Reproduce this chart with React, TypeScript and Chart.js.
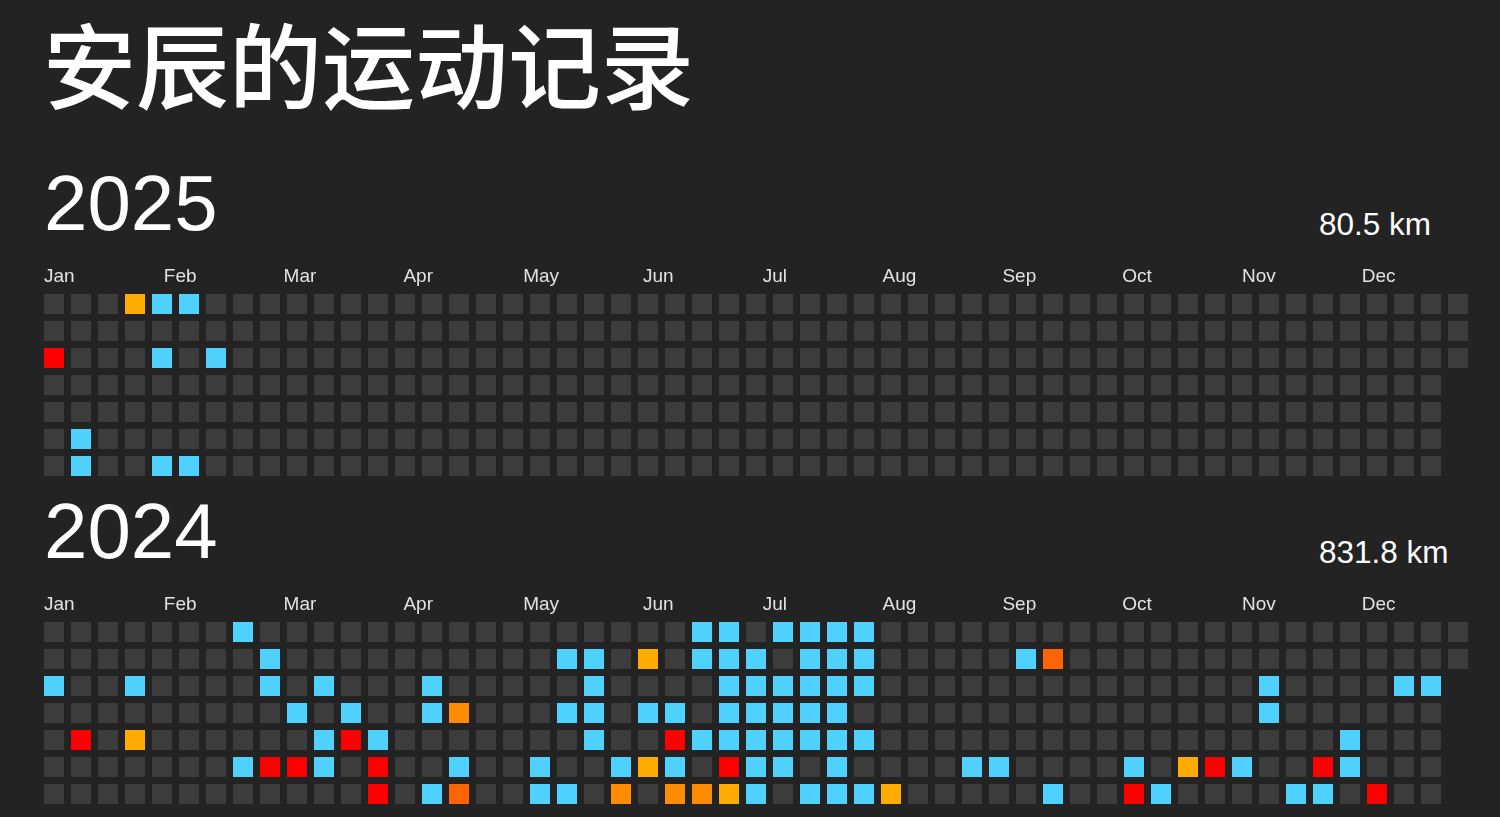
import React, { useEffect, useRef } from 'react';
import { Chart, registerables } from 'chart.js';

Chart.register(...registerables);

const TITLE = '安辰的运动记录';
const MONTHS = ['Jan', 'Feb', 'Mar', 'Apr', 'May', 'Jun', 'Jul', 'Aug', 'Sep', 'Oct', 'Nov', 'Dec'];

// 0 = no run, 1 = short run (cyan), 2..5 = longer runs (amber -> red)
const LEVEL_COLORS = ['#3c3c3c', '#4fd1ff', '#ffab00', '#ff8c00', '#ff6400', '#ff0000'];

// cells per weekday row (week columns 0..52)
const DAYS_PER_ROW_2025 = [53, 53, 53, 52, 52, 52, 52];
const DAYS_PER_ROW_2024 = [53, 53, 52, 52, 52, 52, 52];

// [week, level] for every day with activity, one list per weekday row
const ACTIVE_2025: [number, number][][] = [
  [[3, 2], [4, 1], [5, 1]],
  [],
  [[0, 5], [4, 1], [6, 1]],
  [],
  [],
  [[1, 1]],
  [[1, 1], [4, 1], [5, 1]],
];

const ACTIVE_2024: [number, number][][] = [
  [[7, 1], [24, 1], [25, 1], [27, 1], [28, 1], [29, 1], [30, 1]],
  [[8, 1], [19, 1], [20, 1], [22, 2], [24, 1], [25, 1], [26, 1], [28, 1], [29, 1], [30, 1], [36, 1], [37, 4]],
  [[0, 1], [3, 1], [8, 1], [10, 1], [14, 1], [20, 1], [25, 1], [26, 1], [27, 1], [28, 1], [29, 1], [30, 1], [45, 1], [50, 1], [51, 1]],
  [[9, 1], [11, 1], [14, 1], [15, 3], [19, 1], [20, 1], [22, 1], [23, 1], [25, 1], [26, 1], [27, 1], [28, 1], [29, 1], [45, 1]],
  [[1, 5], [3, 2], [10, 1], [11, 5], [12, 1], [20, 1], [23, 5], [24, 1], [25, 1], [26, 1], [27, 1], [28, 1], [29, 1], [30, 1], [48, 1]],
  [[7, 1], [8, 5], [9, 5], [10, 1], [12, 5], [15, 1], [18, 1], [21, 1], [22, 2], [23, 1], [25, 5], [26, 1], [27, 1], [29, 1],
    [34, 1], [35, 1], [40, 1], [42, 2], [43, 5], [44, 1], [47, 5], [48, 1]],
  [[12, 5], [14, 1], [15, 4], [18, 1], [19, 1], [21, 3], [23, 3], [24, 3], [25, 2], [26, 1], [28, 1], [29, 1], [30, 1], [31, 2],
    [37, 1], [40, 5], [41, 1], [46, 1], [47, 1], [49, 5]],
];

const YEARS = [2025, 2024];
const TOTALS = ['80.5 km', '831.8 km'];

const SANS = '"Liberation Sans", Arial, Helvetica, sans-serif';
const CELL = 20;
const PITCH = 27;
const GRID_LEFT = 44;
const GRID_WIDTH = 1437.6;

interface YearBlockProps {
  year: number;
  total: string;
  daysPerRow: number[];
  active: [number, number][][];
  top: number;
}

const YearBlock: React.FC<YearBlockProps> = ({ year, total, daysPerRow, active, top }) => {
  const canvasRef = useRef<HTMLCanvasElement>(null);
  const chartRef = useRef<Chart | null>(null);

  useEffect(() => {
    if (!canvasRef.current) return;
    if (chartRef.current) chartRef.current.destroy();

    const points: { x: number; y: number }[] = [];
    const colors: string[] = [];
    daysPerRow.forEach((count, row) => {
      const levels = new Map(active[row]);
      for (let week = 0; week < count; week++) {
        points.push({ x: week, y: row });
        colors.push(LEVEL_COLORS[levels.get(week) ?? 0]);
      }
    });

    const xMin = -(CELL / 2) / PITCH;
    const xMax = xMin + GRID_WIDTH / PITCH;

    chartRef.current = new Chart(canvasRef.current, {
      type: 'scatter',
      data: {
        datasets: [{
          data: points,
          backgroundColor: colors,
          borderWidth: 0,
          pointStyle: 'rect',
          pointRadius: CELL / Math.SQRT2,
          pointHoverRadius: CELL / Math.SQRT2,
        }],
      },
      options: {
        responsive: true,
        maintainAspectRatio: false,
        animation: false,
        events: [],
        layout: {
          autoPadding: false,
          padding: { left: GRID_LEFT, right: 1500 - GRID_LEFT - GRID_WIDTH, top: 5.5, bottom: 5.5 },
        },
        plugins: {
          legend: { display: false },
          tooltip: { enabled: false },
        },
        scales: {
          x: { type: 'linear', display: false, min: xMin, max: xMax },
          y: { type: 'linear', display: false, min: -0.5, max: 6.5, reverse: true },
          month: {
            type: 'linear',
            axis: 'x',
            position: 'top',
            min: 0,
            max: 12,
            afterBuildTicks: (scale: any) => {
              scale.ticks = MONTHS.map((_, i) => ({ value: i }));
            },
            afterFit: (scale: any) => {
              scale.height = 30;
            },
            grid: { display: false, drawTicks: false },
            border: { display: false },
            ticks: {
              align: 'start',
              padding: 2,
              autoSkip: false,
              maxRotation: 0,
              color: '#e2e2e2',
              font: { family: SANS, size: 19 },
              callback: (v: any) => MONTHS[v],
            },
          },
        },
      },
    } as any);

    return () => {
      if (chartRef.current) {
        chartRef.current.destroy();
        chartRef.current = null;
      }
    };
  }, [daysPerRow, active]);

  return (
    <>
      <div style={{ position: 'absolute', left: 44, top: top + 164, fontFamily: SANS, fontSize: 78, lineHeight: 1, color: '#fff' }}>
        {year}
      </div>
      <div style={{ position: 'absolute', left: 1319, top: top + 209, fontFamily: SANS, fontSize: 31.5, lineHeight: 1, color: '#fff' }}>
        {total}
      </div>
      <div style={{ position: 'absolute', left: 0, top: top + 255, width: 1500, height: 230 }}>
        <canvas ref={canvasRef}></canvas>
      </div>
    </>
  );
};

const App: React.FC = () => {
  return (
    <div style={{ position: 'absolute', left: 0, top: 0, width: 1500, height: 817, background: '#232323', overflow: 'hidden' }}>
      <div style={{
        position: 'absolute', left: 43, top: 15, fontFamily: '"Noto Sans CJK SC", sans-serif',
        fontSize: 93, fontWeight: 500, lineHeight: 1, color: '#fff', whiteSpace: 'nowrap',
      }}>
        {TITLE}
      </div>
      <YearBlock year={YEARS[0]} total={TOTALS[0]} daysPerRow={DAYS_PER_ROW_2025} active={ACTIVE_2025} top={0} />
      <YearBlock year={YEARS[1]} total={TOTALS[1]} daysPerRow={DAYS_PER_ROW_2024} active={ACTIVE_2024} top={328} />
    </div>
  );
};

export default App;
